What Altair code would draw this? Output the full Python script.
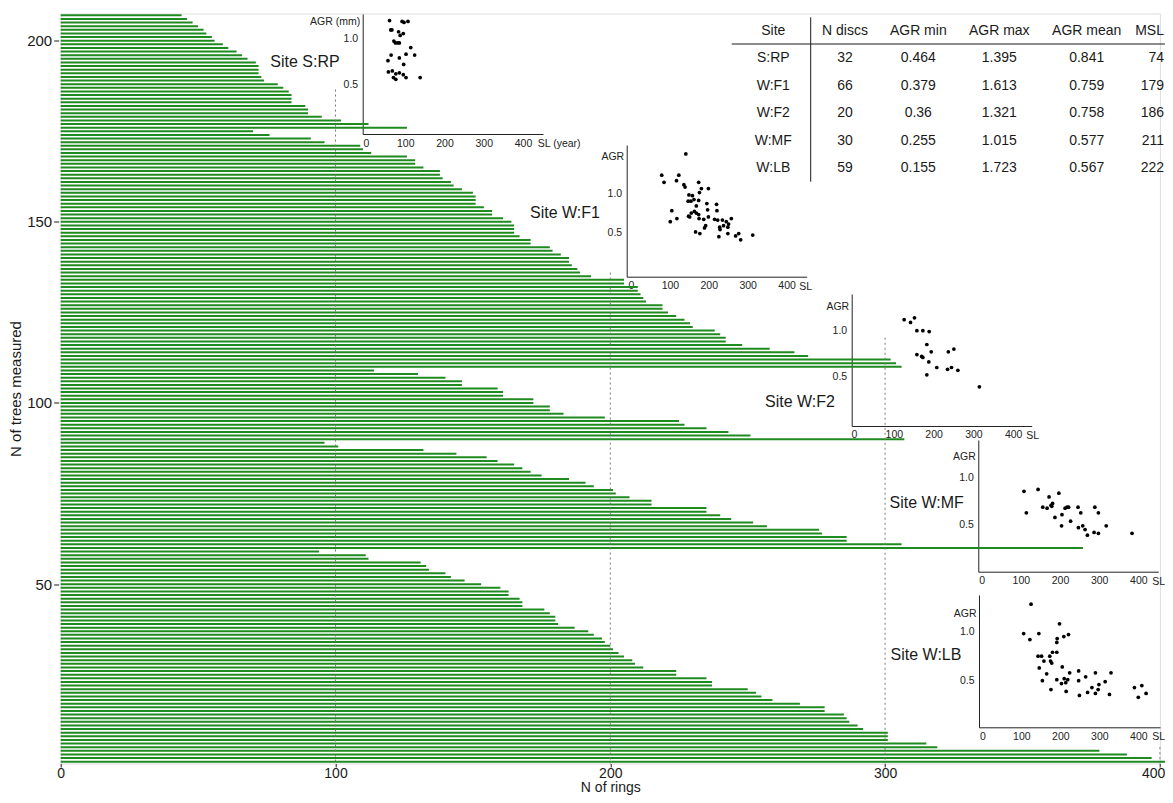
import altair as alt
import pandas as pd

# ---------------- data ----------------
sites = ["S:RP", "W:F1", "W:F2", "W:MF", "W:LB"]

# N of rings per tree, each site listed from the top of its block downwards
rings_srp = [44, 46, 48, 50, 52, 53, 55, 56, 59, 61, 64, 66, 68, 71, 72, 72, 72, 73, 74, 79,
             81, 83, 84, 84, 84, 89, 90, 90, 95, 102, 112, 126]
rings_f1 = [70, 76, 91, 96, 109, 110, 113, 126, 129, 129, 132, 138, 138, 139, 142, 143, 146, 150,
            151, 151, 151, 154, 157, 157, 161, 164, 165, 165, 165, 167, 171, 171, 178, 179, 182,
            185, 185, 186, 188, 189, 193, 205, 205, 210, 210, 211, 212, 213, 219, 219, 221, 224,
            227, 229, 230, 238, 240, 242, 242, 248, 258, 267, 272, 302, 304, 306]
rings_f2 = [114, 130, 140, 146, 146, 159, 161, 161, 172, 172, 178, 178, 183, 198, 225, 227, 235,
            243, 251, 307]
rings_mf = [96, 101, 132, 144, 155, 159, 165, 168, 171, 175, 185, 191, 194, 201, 202, 207, 215,
            215, 235, 235, 240, 244, 252, 257, 276, 277, 286, 286, 306, 372]
rings_lb = [94, 111, 112, 131, 133, 134, 140, 142, 147, 153, 160, 163, 163, 167, 168, 168, 176,
            178, 180, 180, 181, 187, 192, 194, 197, 198, 200, 201, 203, 205, 208, 209, 212, 224,
            224, 235, 237, 237, 250, 253, 255, 259, 269, 278, 278, 285, 286, 287, 290, 292, 301,
            301, 301, 315, 319, 378, 388, 397, 405]

# dotted reference lines (N of rings) and the tree index where each starts
ref_rings = [100, 200, 300, 400]
ref_top = [186.5, 136, 118, 5]

# scatter insets: SL (year) and AGR (mm)
srp_sl = [60, 92, 97, 107, 63, 66, 83, 95, 87, 71, 75, 81, 85, 114, 64, 85, 102, 124, 56, 96,
          57, 67, 76, 85, 95, 70, 76, 102, 138]
srp_agr = [1.19, 1.18, 1.17, 1.18, 1.09, 1.09, 1.07, 1.05, 1.03, 0.97, 0.95, 0.95, 0.95, 0.90,
           0.82, 0.79, 0.83, 0.82, 0.76, 0.72, 0.64, 0.65, 0.62, 0.63, 0.61, 0.58, 0.56, 0.58, 0.58]
f1_sl = [141, 79, 85, 123, 117, 136, 139, 174, 181, 199, 149, 158, 176, 154, 162, 174, 147, 168,
         195, 220, 105, 197, 221, 148, 155, 168, 174, 151, 163, 175, 187, 199, 118, 101, 215, 223,
         235, 245, 258, 251, 238, 228, 249, 229, 192, 189, 166, 177, 226, 249, 269, 277, 282, 313]
f1_agr = [1.50, 1.23, 1.14, 1.23, 1.16, 1.11, 1.08, 1.14, 1.06, 1.06, 0.98, 0.97, 1.01, 0.90,
          0.92, 0.91, 0.90, 0.84, 0.87, 0.86, 0.78, 0.79, 0.78, 0.71, 0.75, 0.75, 0.73, 0.70,
          0.77, 0.68, 0.67, 0.70, 0.68, 0.64, 0.67, 0.66, 0.66, 0.64, 0.68, 0.61, 0.59, 0.57,
          0.57, 0.54, 0.59, 0.56, 0.51, 0.49, 0.45, 0.49, 0.46, 0.49, 0.41, 0.47]
f2_sl = [126, 142, 152, 158, 173, 189, 183, 158, 170, 173, 194, 188, 208, 183, 237, 251, 235,
         245, 261, 315]
f2_agr = [1.12, 1.09, 1.14, 1.00, 1.00, 0.99, 0.85, 0.74, 0.72, 0.71, 0.77, 0.66, 0.60, 0.52,
          0.77, 0.80, 0.58, 0.60, 0.57, 0.39]
mf_sl = [108, 144, 172, 197, 114, 156, 167, 177, 181, 179, 213, 218, 222, 205, 187, 246, 253,
         227, 204, 247, 258, 264, 270, 289, 298, 287, 298, 318, 384]
mf_agr = [0.85, 0.87, 0.79, 0.83, 0.62, 0.68, 0.67, 0.70, 0.72, 0.69, 0.67, 0.68, 0.68, 0.60,
          0.57, 0.68, 0.62, 0.53, 0.48, 0.46, 0.48, 0.44, 0.38, 0.68, 0.62, 0.41, 0.40, 0.48, 0.40]
lb_sl = [125, 198, 106, 122, 145, 192, 191, 209, 221, 143, 152, 158, 173, 180, 191, 175, 178,
         146, 165, 205, 224, 247, 191, 210, 219, 214, 203, 154, 176, 215, 249, 247, 265, 290,
         330, 281, 270, 299, 297, 290, 315, 326, 390, 409, 400, 420]
lb_agr = [1.28, 1.08, 0.98, 0.92, 0.98, 0.93, 0.89, 0.95, 0.97, 0.75, 0.75, 0.70, 0.75, 0.79,
          0.79, 0.70, 0.68, 0.63, 0.57, 0.64, 0.58, 0.60, 0.51, 0.52, 0.51, 0.48, 0.47, 0.50,
          0.41, 0.39, 0.35, 0.50, 0.54, 0.58, 0.58, 0.43, 0.38, 0.46, 0.41, 0.37, 0.49, 0.36,
          0.43, 0.45, 0.33, 0.37]

# summary table
tbl_header = ["Site", "N discs", "AGR min", "AGR max", "AGR mean", "MSL"]
tbl_ndiscs = ["32", "66", "20", "30", "59"]
tbl_min = ["0.464", "0.379", "0.36", "0.255", "0.155"]
tbl_max = ["1.395", "1.613", "1.321", "1.015", "1.723"]
tbl_mean = ["0.841", "0.759", "0.758", "0.577", "0.567"]
tbl_msl = ["74", "179", "186", "211", "222"]

# ---------------- layout constants ----------------
W, H = 1099.2, 750
GREEN = "#1f8a1f"
FONT = "Liberation Sans"
TXT = "#1a1a1a"

# ---------------- main bars ----------------
all_rings = rings_srp + rings_f1 + rings_f2 + rings_mf + rings_lb
n = len(all_rings)
bars_df = pd.DataFrame({
    "tree": [n - k for k in range(n)],
    "rings": all_rings,
    "zero": [0] * n,
})
ref_df = pd.DataFrame({"rings": ref_rings, "top": ref_top, "bottom": [0.5] * len(ref_rings)})

xs = alt.Scale(domain=[0, 400], nice=False, zero=False)
ys = alt.Scale(domain=[0.5, 207.5], nice=False, zero=False)

bars = alt.Chart(bars_df).mark_rule(color=GREEN, strokeWidth=2).encode(
    x=alt.X("zero:Q", scale=xs, axis=alt.Axis(
        values=[0, 100, 200, 300, 400], title="N of rings", domain=False, grid=False,
        tickSize=3.5, tickColor=TXT, offset=0, labelPadding=0, labelFontSize=14,
        labelColor=TXT, labelFlush=False, labelOverlap=False,
        labelAlign={"expr": "datum.value == 400 ? 'right' : 'center'"},
        labelOffset={"expr": "datum.value == 400 ? 5 : 0"},
        titleFontSize=14, titleFontWeight="normal", titleColor=TXT, titleX=W / 2,
        titleY=17.5, titleBaseline="top", titleAlign="center")),
    x2="rings:Q",
    y=alt.Y("tree:Q", scale=ys, axis=alt.Axis(
        values=[50, 100, 150, 200], title="N of trees measured", domain=False, grid=False,
        tickSize=5, tickColor=TXT, offset=2, labelPadding=2, labelFontSize=15,
        labelColor=TXT, labelOverlap=False, titleFontSize=15, titleFontWeight="normal",
        titleColor=TXT, titleX=-43.5, titleY=H / 2, titleAngle=270, titleAlign="center",
        titleBaseline="middle")),
)
refs = alt.Chart(ref_df).mark_rule(color="#777777", strokeWidth=1, strokeDash=[2, 3]).encode(
    x=alt.X("rings:Q", scale=xs), y=alt.Y("top:Q", scale=ys), y2="bottom:Q")
main = alt.layer(bars, refs)


# ---------------- insets ----------------
def inset(sl, agr, xdom, xrng, ydom, yrng, ytitle, ytitle_y, xtitle, xtitle_x):
    df = pd.DataFrame({"SL": sl, "AGR": agr})
    return alt.Chart(df).mark_circle(size=14, color="black", opacity=1).encode(
        x=alt.X("SL:Q", scale=alt.Scale(domain=xdom, range=xrng, nice=False, zero=False),
                axis=alt.Axis(orient="bottom", offset=yrng[0] - H, values=[0, 100, 200, 300, 400],
                              ticks=False, grid=False, domainColor="#222", domainWidth=1,
                              labelPadding=4, labelFontSize=10.5, labelColor="#222",
                              labelFlush=False, labelOverlap=False, title=xtitle,
                              titleFontSize=10.5, titleFontWeight="normal", titleColor="#222",
                              titleX=xtitle_x, titleY=9.5, titleAlign="left",
                              titleBaseline="middle", titleAngle=0)),
        y=alt.Y("AGR:Q", scale=alt.Scale(domain=ydom, range=yrng, nice=False, zero=False),
                axis=alt.Axis(orient="left", offset=-xrng[0], values=[0.5, 1.0], format=".1f",
                              ticks=False, grid=False, domainColor="#222", domainWidth=1,
                              labelPadding=5, labelFontSize=10.5, labelColor="#222",
                              labelFlush=False, labelOverlap=False, title=ytitle,
                              titleFontSize=10.5, titleFontWeight="normal", titleColor="#222",
                              titleX=-3, titleY=ytitle_y, titleAlign="right",
                              titleBaseline="middle", titleAngle=0)),
    )


ins_srp = inset(srp_sl, srp_agr, [-8.4, 451], [302, 482.3], [-0.025, 1.26], [120.5, 0.5],
                "AGR (mm)", 7.5, "SL (year)", 476.6)
ins_f1 = inset(f1_sl, f1_agr, [-11, 451.7], [566, 746], [-0.058, 1.613], [263.2, 131.5],
               "AGR", 143.2, "SL", 738)
ins_f2 = inset(f2_sl, f2_agr, [-5.8, 446.5], [791, 971], [-0.036, 1.399], [412.5, 280.5],
               "AGR", 292.5, "SL", 965)
ins_mf = inset(mf_sl, mf_agr, [-8.7, 451], [917.6, 1097.6], [-0.011, 1.40], [558.2, 426.5],
               "AGR", 443.2, "SL", 1091)
ins_lb = inset(lb_sl, lb_agr, [-8.5, 455.6], [918.3, 1099.3], [0.0245, 1.374], [713.8, 581.5],
               "AGR", 599.8, "SL", 1091)

# ---------------- site labels ----------------
lab_df = pd.DataFrame({"label": ["Site " + s for s in sites]})
label_pos = [(244.3, 48.2), (504.3, 199.8), (739.3, 388.2), (866, 489.8), (865.3, 641.5)]
labels = [
    alt.Chart(lab_df.iloc[[i]]).mark_text(font=FONT, fontSize=16, color=TXT).encode(
        text="label:N", x=alt.value(px), y=alt.value(py))
    for i, (px, py) in enumerate(label_pos)
]

# ---------------- table ----------------
cols = [["Site"] + sites, ["N discs"] + tbl_ndiscs, ["AGR min"] + tbl_min,
        ["AGR max"] + tbl_max, ["AGR mean"] + tbl_mean, ["MSL"] + tbl_msl]
col_x = [712.6, 784.3, 857.6, 938.6, 1026, 1103.3]
col_align = ["center"] * 5 + ["right"]
table_layers = []
for cx, al, col in zip(col_x, col_align, cols):
    cdf = pd.DataFrame({"row": list(range(len(col))), "txt": col})
    table_layers.append(
        alt.Chart(cdf).mark_text(font=FONT, fontSize=14, color=TXT, align=al).encode(
            text="txt:N", x=alt.value(cx),
            y=alt.Y("row:Q", scale=alt.Scale(domain=[0, 5], range=[17.5, 154.8]), axis=None)))

line_df = pd.DataFrame({"k": [0]})
hline = alt.Chart(line_df).mark_rule(color=TXT, strokeWidth=1).encode(
    x=alt.value(671), x2=alt.value(1112.3), y=alt.value(30.5))
vline = alt.Chart(line_df).mark_rule(color=TXT, strokeWidth=1).encode(
    x=alt.value(750), y=alt.value(3.8), y2=alt.value(168.2))

chart = alt.layer(
    main, ins_srp, ins_f1, ins_f2, ins_mf, ins_lb, *labels, *table_layers, hline, vline
).resolve_scale(x="independent", y="independent").properties(
    width=W, height=H,
    padding={"left": 52.7, "top": 5.5, "right": 5, "bottom": 31.5},
    autosize=alt.AutoSizeParams(type="none"),
).configure_view(stroke=None).configure(font=FONT)

chart.save("out.html", embed_options={"renderer": "svg", "actions": False})
